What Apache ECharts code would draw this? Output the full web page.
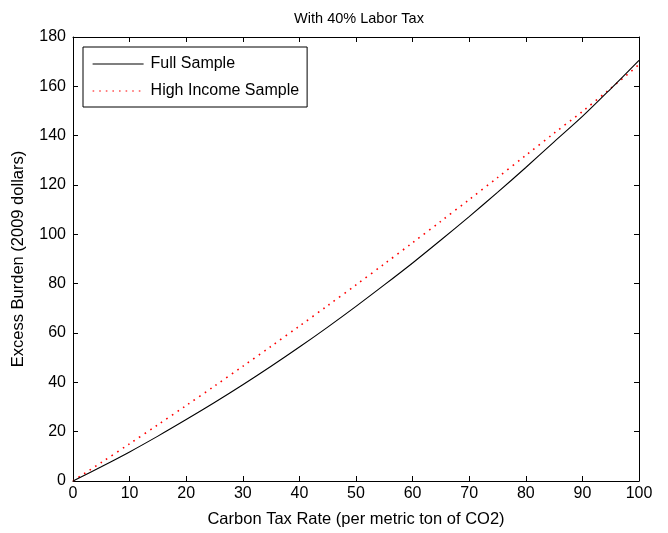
<!DOCTYPE html>
<html>
<head>
<meta charset="utf-8">
<script src="https://cdn.jsdelivr.net/npm/echarts@6/dist/echarts.min.js"></script>
<style>
  html, body { margin: 0; padding: 0; background: #fff; }
  #chart { width: 668px; height: 533px; }
</style>
</head>
<body>
<div id="chart"></div>
<script>
// Carbon tax rate (dollars per metric ton of CO2)
const taxRates = [0, 5, 10, 15, 20, 25, 30, 35, 40, 45, 50, 55, 60, 65, 70, 75, 80, 85, 90, 95, 100];
// Excess burden, 2009 dollars
const fullSample = [0, 5.8, 11.8, 18.2, 24.9, 31.8, 39.0, 46.5, 54.3, 62.4, 70.8, 79.5, 88.4, 97.7, 107.2, 117.0, 127.1, 137.5, 147.8, 159.0, 170.5];
const highIncomeSample = [0, 7.5, 15.1, 22.8, 30.6, 38.5, 46.5, 54.6, 62.8, 71.1, 79.5, 88.0, 96.6, 105.3, 114.1, 123.0, 132.0, 141.0, 149.8, 159.2, 168.8];
const xTicks = [0, 10, 20, 30, 40, 50, 60, 70, 80, 90, 100];
const yTicks = [0, 20, 40, 60, 80, 100, 120, 140, 160, 180];

const FONT = 'Liberation Sans';
const pairs = (xs, ys) => xs.map((x, i) => [x, ys[i]]);

const chart = echarts.init(document.getElementById('chart'), null, { renderer: 'canvas' });

const baseX = {
  type: 'value', min: xTicks[0], max: xTicks[xTicks.length - 1], interval: 10,
  axisLine: { show: true, onZero: false, lineStyle: { color: '#000', width: 1 } },
  axisTick: { show: true, inside: true, length: 5, lineStyle: { color: '#000' } },
  splitLine: { show: false }
};
const baseY = {
  type: 'value', min: yTicks[0], max: yTicks[yTicks.length - 1], interval: 20,
  axisLine: { show: true, onZero: false, lineStyle: { color: '#000', width: 1 } },
  axisTick: { show: true, inside: true, length: 5, lineStyle: { color: '#000' } },
  splitLine: { show: false }
};

chart.setOption({
  animation: false,
  backgroundColor: '#fff',
  textStyle: { fontFamily: FONT },
  title: {
    text: 'With 40% Labor Tax',
    left: 354, top: 6, textAlign: 'center',
    textStyle: { fontFamily: FONT, fontSize: 14.5, fontWeight: 'normal', color: '#000' }
  },
  grid: { left: 73, right: 29, top: 37, bottom: 50, containLabel: false },
  legend: {
    left: 83, top: 47, orient: 'vertical',
    backgroundColor: '#fff', borderColor: '#000', borderWidth: 1, borderRadius: 0,
    padding: [9, 8, 8, 9], itemGap: 11, itemWidth: 51, itemHeight: 14,
    itemStyle: { opacity: 0, borderWidth: 0 },
    lineStyle: { width: 1.2 },
    textStyle: { fontFamily: FONT, fontSize: 16, color: '#000', padding: [0, 0, 0, 2] },
    data: ['Full Sample', 'High Income Sample']
  },
  xAxis: [
    Object.assign({}, baseX, {
      position: 'bottom',
      name: 'Carbon Tax Rate (per metric ton of CO2)',
      nameLocation: 'middle', nameGap: 30,
      nameTextStyle: { fontFamily: FONT, fontSize: 16.5, color: '#000' },
      axisLabel: { show: true, margin: 5, fontFamily: FONT, fontSize: 16, color: '#000',
        formatter: v => xTicks.includes(v) ? String(v) : '' }
    }),
    Object.assign({}, baseX, { position: 'top', axisLabel: { show: false } })
  ],
  yAxis: [
    Object.assign({}, baseY, {
      position: 'left',
      name: 'Excess Burden (2009 dollars)',
      nameLocation: 'middle', nameGap: 46, nameRotate: 90,
      nameTextStyle: { fontFamily: FONT, fontSize: 16.5, color: '#000' },
      axisLabel: { show: true, margin: 7, fontFamily: FONT, fontSize: 16, color: '#000',
        formatter: v => yTicks.includes(v) ? String(v) : '' }
    }),
    Object.assign({}, baseY, { position: 'right', axisLabel: { show: false } })
  ],
  series: [
    {
      name: 'Full Sample', type: 'line', xAxisIndex: 0, yAxisIndex: 0,
      data: pairs(taxRates, fullSample), showSymbol: false, symbol: 'none', smooth: 0.3,
      lineStyle: { color: '#000', width: 1.1 }, itemStyle: { color: '#000' }, z: 3
    },
    {
      name: 'High Income Sample', type: 'line', xAxisIndex: 0, yAxisIndex: 0,
      data: pairs(taxRates, highIncomeSample), showSymbol: false, symbol: 'none', smooth: 0.3,
      lineStyle: { color: '#ff0000', width: 1.6, type: [1.6, 5] }, itemStyle: { color: '#ff0000' }, z: 2
    }
  ]
});
</script>
</body>
</html>
